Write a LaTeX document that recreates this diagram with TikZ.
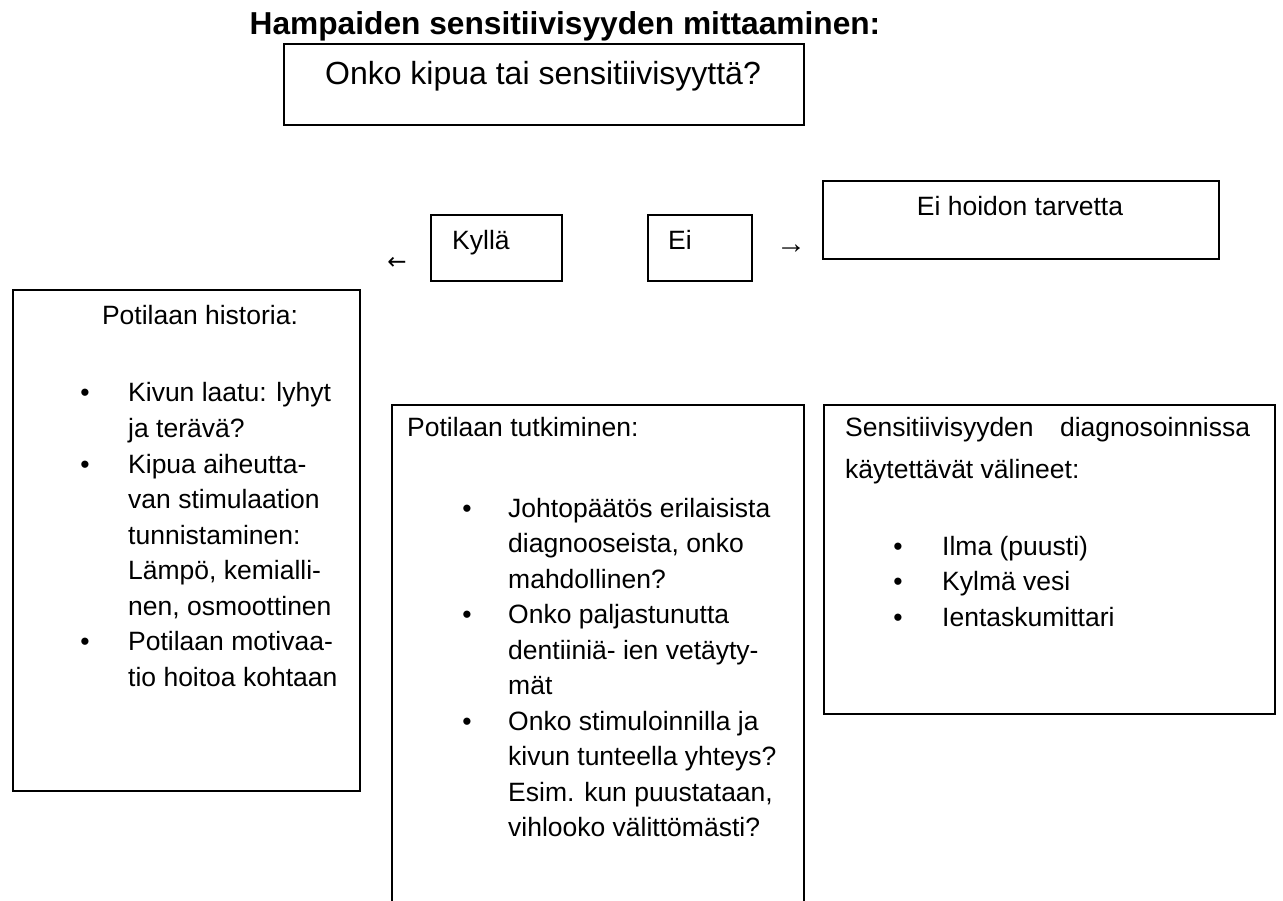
\documentclass[tikz,border=0pt]{standalone}
\usepackage{fontspec}
\setmainfont{Liberation Sans}
\newfontfamily\arrowfont{DejaVu Sans}
\newcommand{\bodyfont}{\fontsize{26.5}{35.5}\selectfont}
\newcommand{\headfont}{\fontsize{31.7}{38}\selectfont\bfseries}
\newcommand{\askfont}{\fontsize{32}{38}\selectfont}
\tikzset{
	box/.style={draw, line width=1.6pt, inner sep=0pt, anchor=north west},
	txt/.style={font=\bodyfont, inner sep=0pt},
	dot/.style={font=\bodyfont, inner sep=0pt, anchor=base}
}
\begin{document}
\begin{tikzpicture}[x=1pt,y=-1pt]
	\useasboundingbox (0,0) rectangle (1283,901);
	\clip (0,0) rectangle (1283,901);
	% heading and question
	\node[font=\headfont, inner sep=0pt, anchor=base] (title) at (565,35) {Hampaiden sensitiivisyyden mittaaminen:};
	\node[box, minimum width=520pt, minimum height=81pt] (askbox) at (283,43) {};
	\node[font=\askfont, inner sep=0pt, anchor=base] (ask) at (543,85) {Onko kipua tai sensitiivisyyttä?};
	% answers
	\node[box, minimum width=131pt, minimum height=66pt] (yesbox) at (430,214) {};
	\node[txt, anchor=base west] (yes) at (452,250) {Kyllä};
	\node[box, minimum width=104pt, minimum height=66pt] (nobox) at (647,214) {};
	\node[txt, anchor=base west] (no) at (668,250) {Ei};
	\node[font=\fontsize{23}{26}\selectfont\arrowfont, inner sep=0pt] (yesarrow) at (397,263) {←};
	\node[font=\fontsize{30}{34}\selectfont, inner sep=0pt] (noarrow) at (791,249) {→};
	\node[box, minimum width=396pt, minimum height=78pt] (nocarebox) at (822,180) {};
	\node[txt, anchor=base] (nocare) at (1020,216) {Ei hoidon tarvetta};
	% patient history
	\node[box, minimum width=347pt, minimum height=501pt] (histbox) at (12,289) {};
	\node[txt, anchor=base] (hist) at (200,325) {Potilaan historia:};
	\foreach \t [count=\i from 0] in {Kivun laatu: lyhyt, ja terävä?, Kipua aiheutta-, van stimulaation, tunnistaminen:, {Lämpö, kemialli-}, {nen, osmoottinen}, Potilaan motivaa-, tio hoitoa kohtaan}
		\node[txt, anchor=base west] (hist\i) at (128,{402+35.5*\i}) {\t};
	\foreach \i in {0,2,7}
		\node[dot] (histdot\i) at (85,{402+35.5*\i}) {\textbullet};
	% examination
	\node[box, minimum width=412pt, minimum height=530pt] (exambox) at (391,404) {};
	\node[txt, anchor=base west] (exam) at (407,436) {Potilaan tutkiminen:};
	\foreach \t [count=\i from 0] in {Johtopäätös erilaisista, {diagnooseista, onko}, mahdollinen?, Onko paljastunutta, dentiiniä- ien vetäyty-, mät, Onko stimuloinnilla ja, kivun tunteella yhteys?, {Esim. kun puustataan,}, vihlooko välittömästi?}
		\node[txt, anchor=base west] (exam\i) at (508,{517+35.5*\i}) {\t};
	\foreach \i in {0,3,6}
		\node[dot] (examdot\i) at (467,{517+35.5*\i}) {\textbullet};
	% tools
	\node[box, minimum width=451pt, minimum height=309pt] (toolbox) at (823,404) {};
	\node[txt, anchor=base west] (tool) at (845,436) {\makebox[405pt][s]{Sensitiivisyyden diagnosoinnissa}};
	\node[txt, anchor=base west] (toolb) at (845,478) {käytettävät välineet:};
	\foreach \t [count=\i from 0] in {Ilma (puusti), Kylmä vesi, Ientaskumittari}
		\node[txt, anchor=base west] (tool\i) at (942,{555+35.5*\i}) {\t};
	\foreach \i in {0,1,2}
		\node[dot] (tooldot\i) at (898,{555+35.5*\i}) {\textbullet};
\end{tikzpicture}
\end{document}
